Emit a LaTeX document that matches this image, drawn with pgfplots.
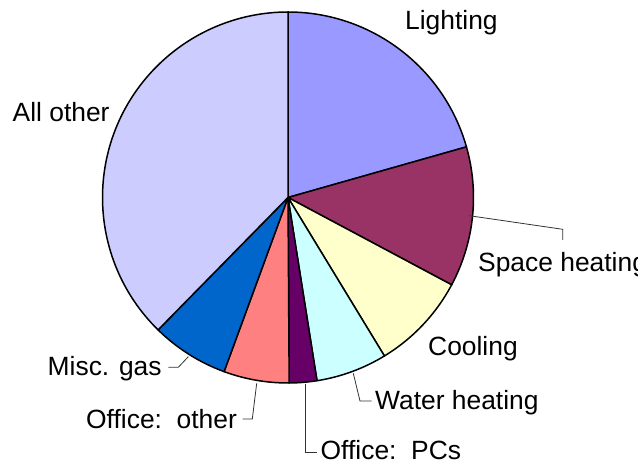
\documentclass[border=0pt]{standalone}
\usepackage{pgfplots}
\pgfplotsset{compat=1.18}
\usepackage{fontspec}
\setmainfont{Liberation Sans}
\definecolor{cLight}{HTML}{9999FF}
\definecolor{cSpace}{HTML}{993366}
\definecolor{cCool}{HTML}{FFFFCC}
\definecolor{cWater}{HTML}{CCFFFF}
\definecolor{cPC}{HTML}{660066}
\definecolor{cOther}{HTML}{FF8080}
\definecolor{cMisc}{HTML}{0066CC}
\definecolor{cAll}{HTML}{CCCCFF}
% slice: cumulative start %, cumulative end %, colour
\newcommand\slice[3]{\filldraw[fill=#3,draw=black,line width=1.5pt,line join=round]
  (axis cs:288,266.5) -- ++({90-3.6*#1}:185.5pt)
  arc[start angle={90-3.6*#1}, end angle={90-3.6*#2}, radius=185.5pt] -- cycle;}
\newcommand\lab[3]{\node[anchor=base west,inner sep=0pt,font=\fontsize{26.4}{30}\selectfont] at (axis cs:#1,{464-#2}) {#3};}
\newcommand\lead[1]{\draw[line width=0.8pt,black!80] #1;}
\begin{document}
\begin{tikzpicture}
\begin{axis}[scale only axis, width=638pt, height=464pt,
  xmin=0, xmax=638, ymin=0, ymax=464, hide axis, clip=true]
\path (axis cs:0,0) rectangle (axis cs:638,464);
% shares in percent: Lighting 20.6, Space heating 12.2, Cooling 8.5,
% Water heating 6.2, Office PCs 2.4, Office other 5.7, Misc. gas 6.75, All other 37.65
\slice{0}{20.6}{cLight}
\slice{20.6}{32.8}{cSpace}
\slice{32.8}{41.3}{cCool}
\slice{41.3}{47.5}{cWater}
\slice{47.5}{49.9}{cPC}
\slice{49.9}{55.6}{cOther}
\slice{55.6}{62.35}{cMisc}
\slice{62.35}{100}{cAll}
% leader lines
\lead{(axis cs:469.3,248.3) -- (axis cs:562.7,234.7) -- (axis cs:562.7,224)}
\lead{(axis cs:353.3,90.7) -- (axis cs:360,63) -- (axis cs:371.7,63)}
\lead{(axis cs:305,80) -- (axis cs:305,12) -- (axis cs:316.7,12)}
\lead{(axis cs:256.7,80.7) -- (axis cs:252.3,45) -- (axis cs:242.7,45)}
\lead{(axis cs:188.3,107.3) -- (axis cs:178.3,96.7) -- (axis cs:168.3,96.7)}
% labels
\lab{405}{29.3}{Lighting}
\lab{12.5}{121.7}{All other}
\lab{478}{271.7}{Space heating}
\lab{428}{356}{Cooling}
\lab{375}{409.3}{Water heating}
\lab{320.5}{460}{Office:~~PCs}
\lab{86}{428.3}{Office:~~other}
\lab{47.5}{375.7}{Misc. gas}
\end{axis}
\pgfresetboundingbox
\useasboundingbox (current axis.south west) rectangle (current axis.north east);
\end{tikzpicture}
\end{document}
